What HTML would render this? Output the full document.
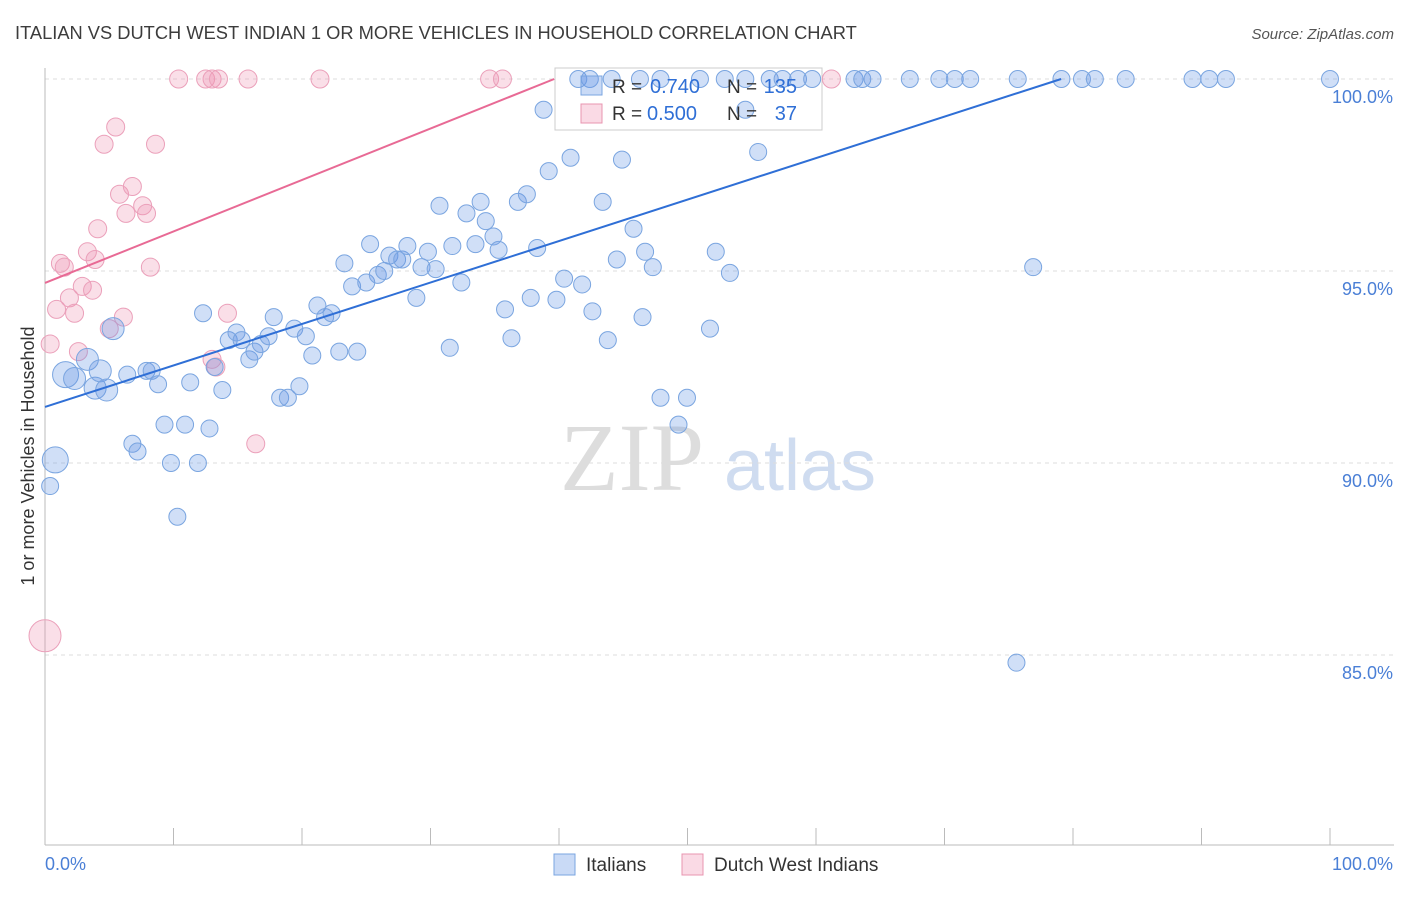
<!DOCTYPE html>
<html><head><meta charset="utf-8"><style>
body{margin:0;background:#fff;font-family:"Liberation Sans",sans-serif}
</style></head><body>
<svg id="chart" width="1406" height="892" xmlns="http://www.w3.org/2000/svg" font-family="Liberation Sans, sans-serif">
<text x="15" y="39" font-size="18.3" fill="#3c3c3c">ITALIAN VS DUTCH WEST INDIAN 1 OR MORE VEHICLES IN HOUSEHOLD CORRELATION CHART</text>
<text x="1394" y="39" font-size="15" fill="#555" text-anchor="end" font-style="italic">Source: ZipAtlas.com</text>
<g><text x="632" y="490" font-size="96" fill="#ddd" text-anchor="middle" font-family="Liberation Serif, serif">ZIP</text><text x="800" y="490" font-size="72" fill="#cfdcf0" text-anchor="middle">atlas</text></g>
<g id="grid"></g><g id="axes"></g>
<rect x="555" y="68" width="267" height="62" fill="#fff" stroke="#ccc"/>
<g id="pts"></g><g id="lines"></g>
<text transform="translate(34,456) rotate(-90)" font-size="18" fill="#333" text-anchor="middle">1 or more Vehicles in Household</text>
<g>
<rect x="581" y="76" width="21" height="19" fill="rgba(100,150,230,0.35)" stroke="#7aa5e0"/>
<rect x="581" y="104" width="21" height="19" fill="rgba(240,150,180,0.35)" stroke="#e895b0"/>
<text x="612" y="93" font-size="19" fill="#333">R =</text><text x="650" y="93" font-size="20" fill="#2f6fd6">0.740</text>
<text x="727" y="93" font-size="19" fill="#333">N =</text><text x="797" y="93" font-size="20" fill="#2f6fd6" text-anchor="end">135</text>
<text x="612" y="120" font-size="19" fill="#333">R =</text><text x="647" y="120" font-size="20" fill="#2f6fd6">0.500</text>
<text x="727" y="120" font-size="19" fill="#333">N =</text><text x="797" y="120" font-size="20" fill="#2f6fd6" text-anchor="end">37</text>
</g>
<g>
<rect x="554" y="854" width="21" height="21" fill="rgba(100,150,230,0.35)" stroke="#7aa5e0"/>
<text x="586" y="871" font-size="19" fill="#333">Italians</text>
<rect x="682" y="854" width="21" height="21" fill="rgba(240,150,180,0.35)" stroke="#e895b0"/>
<text x="714" y="871" font-size="19" fill="#333">Dutch West Indians</text>
</g>
</svg>
<script>
const yTicks=[85,90,95,100];
const yTickLabels=["85.0%","90.0%","95.0%","100.0%"];
const xTickLabels=["0.0%","100.0%"];
const blueX=[0.8,0.4,1.6,2.3,3.3,3.9,4.3,4.8,5.3,6.4,6.8,7.2,7.9,8.3,8.8,9.3,9.8,10.3,10.9,11.3,11.9,12.3,12.8,13.2,13.8,14.3,14.9,15.3,15.9,16.3,16.8,17.4,17.8,18.3,18.9,19.4,19.8,20.3,20.8,21.2,21.8,22.3,22.9,23.3,23.9,24.3,25.0,25.3,25.9,26.4,26.8,27.4,27.8,28.2,28.9,29.3,29.8,30.4,30.7,31.5,31.7,32.4,32.8,33.5,33.9,34.3,34.9,35.3,35.8,36.3,36.8,37.5,37.8,38.3,38.8,39.2,39.8,40.4,40.9,41.8,42.6,43.4,43.8,44.5,44.9,45.8,46.5,46.7,47.3,47.9,49.3,49.96,51.75,52.2,53.3,54.5,55.5,76.9,75.6,41.5,42.4,44.1,46.3,47.9,50.97,52.9,54.5,56.4,57.4,58.6,59.7,63.0,63.6,64.4,67.3,69.6,70.8,72.0,75.7,79.1,80.7,81.7,84.1,89.3,90.6,91.9,100];
const blueY=[90.08,89.4,92.3,92.2,92.7,91.95,92.4,91.9,93.5,92.3,90.5,90.3,92.4,92.4,92.05,91.0,90.0,88.6,91.0,92.1,90.0,93.9,90.9,92.5,91.9,93.2,93.4,93.2,92.7,92.9,93.1,93.3,93.8,91.7,91.7,93.5,92.0,93.3,92.8,94.1,93.8,93.9,92.9,95.2,94.6,92.9,94.7,95.7,94.9,95.0,95.4,95.3,95.3,95.65,94.3,95.1,95.5,95.05,96.7,93.0,95.65,94.7,96.5,95.7,96.8,96.3,95.9,95.55,94.0,93.25,96.8,97.0,94.3,95.6,99.2,97.6,94.25,94.8,97.95,94.65,93.95,96.8,93.2,95.3,97.9,96.1,93.8,95.5,95.1,91.7,91.0,91.7,93.5,95.5,94.95,99.2,98.1,95.1,84.8,100,100,100,100,100,100,100,100,100,100,100,100,100,100,100,100,100,100,100,100,100,100,100,100,100,100,100,100];
const blueBig=[0,2,3,4,5,6,7,8];
const pinkX=[0,0.4,0.9,1.2,1.5,1.9,2.3,2.6,2.9,3.3,3.7,3.9,4.1,4.6,5.0,5.5,5.8,6.1,6.3,6.8,7.6,7.9,8.2,8.6,10.4,12.5,13.0,13.5,13.0,13.3,14.2,15.8,16.4,21.4,34.6,35.6,61.2];
const pinkY=[85.5,93.1,94.0,95.2,95.1,94.3,93.9,92.9,94.6,95.5,94.5,95.3,96.1,98.3,93.5,98.75,97.0,93.8,96.5,97.2,96.7,96.5,95.1,98.3,100,100,100,100,92.7,92.5,93.9,100,90.5,100,100,100,100];
const blueReg=[91.46,0.108];
const pinkReg=[94.69,0.134];
const X=v=>45+v*12.85, Y=v=>79+(100-v)*38.4;
const NS="http://www.w3.org/2000/svg";
function mk(t,a,p){const e=document.createElementNS(NS,t);for(const k in a)e.setAttribute(k,a[k]);p.appendChild(e);return e;}
const grid=document.getElementById('grid'),axes=document.getElementById('axes'),pts=document.getElementById('pts'),lines=document.getElementById('lines');
yTicks.forEach((t,i)=>{
 const l=mk('line',{x1:45,x2:1394,y1:Y(t),y2:Y(t),stroke:'#ddd','stroke-dasharray':'4,4'},grid);
 
 
 const tx=mk('text',{x:1393,y:Y(t)+24,'font-size':18,fill:'#4a7fd6','text-anchor':'end'},axes);
 tx.textContent=yTickLabels[i];
 
 
});
const ax=mk('line',{x1:45,x2:45,y1:68,y2:845,stroke:'#bbb'},axes);


const bx=mk('line',{x1:45,x2:1394,y1:845,y2:845,stroke:'#bbb'},axes);


for(let i=0;i<=10;i++){const t=mk('line',{x1:X(i*10),x2:X(i*10),y1:828,y2:845,stroke:'#bbb'},axes);
 
 }
[[0,'start'],[100,'end']].forEach((d,i)=>{const t=mk('text',{x:i?1393:45,y:870,'font-size':18,fill:'#4a7fd6','text-anchor':d[1]},axes);t.textContent=xTickLabels[i];
 
 });
pinkX.forEach((x,i)=>{const c=mk('circle',{cx:X(x),cy:Y(pinkY[i]),r:i==0?16:9,fill:'rgba(240,150,180,0.3)',stroke:'#eba0ba','stroke-width':1},pts);
 
 });
blueX.forEach((x,i)=>{const c=mk('circle',{cx:X(x),cy:Y(blueY[i]),r:blueBig.includes(i)?(i<3?13:11):8.5,fill:'rgba(100,150,230,0.3)',stroke:'#7aa5e0','stroke-width':1},pts);
 
 });
function reg(r,col,name){const xe=(100-r[0])/r[1];const l=mk('line',{x1:X(0),y1:Y(r[0]),x2:X(xe),y2:Y(100),stroke:col,'stroke-width':2},lines);
 
 }
reg(blueReg,'#2f6fd6','italians-trend-line');
reg(pinkReg,'#e86a95','dutch-west-indians-trend-line');
</script>
</body></html>
